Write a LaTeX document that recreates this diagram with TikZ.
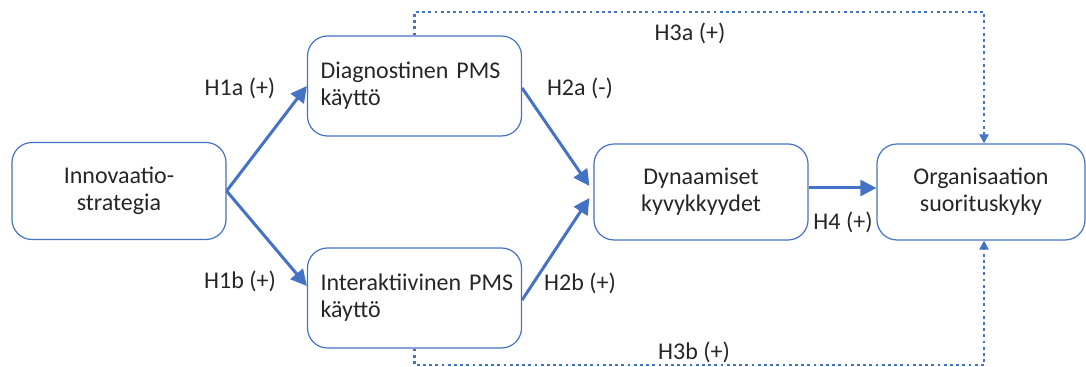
\documentclass[tikz,border=0pt]{standalone}
\usepackage{fontspec}
\setmainfont{Carlito}
\usetikzlibrary{arrows.meta}
\definecolor{boxblue}{HTML}{4472C4}
\definecolor{txtgray}{HTML}{262626}
\tikzset{
  box/.style={draw=boxblue, line width=0.6pt, rounded corners=10pt, minimum width=107pt,
    minimum height=48pt, text=txtgray, font=\fontsize{12}{13.5}\selectfont},
  lbox/.style={box, text width=100pt, inner xsep=3.5pt, align=left},
  cbox/.style={box, align=center},
  arr/.style={-{Triangle[length=8pt,width=8pt]}, draw=boxblue, line width=1.5pt},
  dotarr/.style={-{Triangle[length=4.5pt,width=4.5pt]}, draw=boxblue, line width=1.4pt,
    dash pattern=on 1.4pt off 1.7pt},
  lbl/.style={text=txtgray, font=\fontsize{12}{13.5}\selectfont, inner sep=0pt}
}
\begin{document}
\begin{tikzpicture}[x=0.5pt,y=-0.5pt]
\useasboundingbox (0,0) rectangle (1086,367);
% boxes
\node[cbox, minimum width=107pt, minimum height=48.5pt] (innov) at (119,191) {Innovaatio-\\strategia};
\node[lbox, minimum height=50pt] (diag) at (414.5,86) {\hspace*{3pt}Diagnostinen PMS\\\hspace*{3pt}käyttö};
\node[lbox, minimum height=50pt] (inter) at (414.5,298) {\hspace*{3pt}Interaktiivinen PMS\\\hspace*{3pt}käyttö};
\node[cbox, minimum height=48pt] (dyn) at (701,192) {Dynaamiset\\kyvykkyydet};
\node[cbox, minimum width=104pt, minimum height=48pt] (org) at (981,192) {Organisaation\\suorituskyky};
% solid arrows
\draw[arr] (innov.east) -- (diag.west);
\draw[arr] (innov.east) -- ([yshift=6pt]inter.west);
\draw[arr] ([yshift=-1pt]diag.east) -- ([xshift=-2pt,yshift=3pt]dyn.west);
\draw[arr] ([yshift=-1pt]inter.east) -- ([xshift=-2pt,yshift=-3pt]dyn.west);
\draw[arr] ([yshift=2pt]dyn.east) -- ([yshift=2pt]org.west);
% dotted arrows
\coordinate (h3atop) at (984,12);
\coordinate (h3bbot) at (984,365);
\draw[dotarr] (diag.north) |- (h3atop) -- (h3atop |- org.north);
\draw[dotarr] (inter.south) |- (h3bbot) -- (h3bbot |- org.south);
% labels
\node[lbl] (l1a) at (240,88) {H1a (+)};
\node[lbl] (l1b) at (240,281) {H1b (+)};
\node[lbl] (l2a) at (580,88) {H2a (-)};
\node[lbl] (l2b) at (580,283) {H2b (+)};
\node[lbl] (l3a) at (690,33) {H3a (+)};
\node[lbl] (l3b) at (694,352) {H3b (+)};
\node[lbl] (l4) at (843,222) {H4 (+)};
\end{tikzpicture}
\end{document}
